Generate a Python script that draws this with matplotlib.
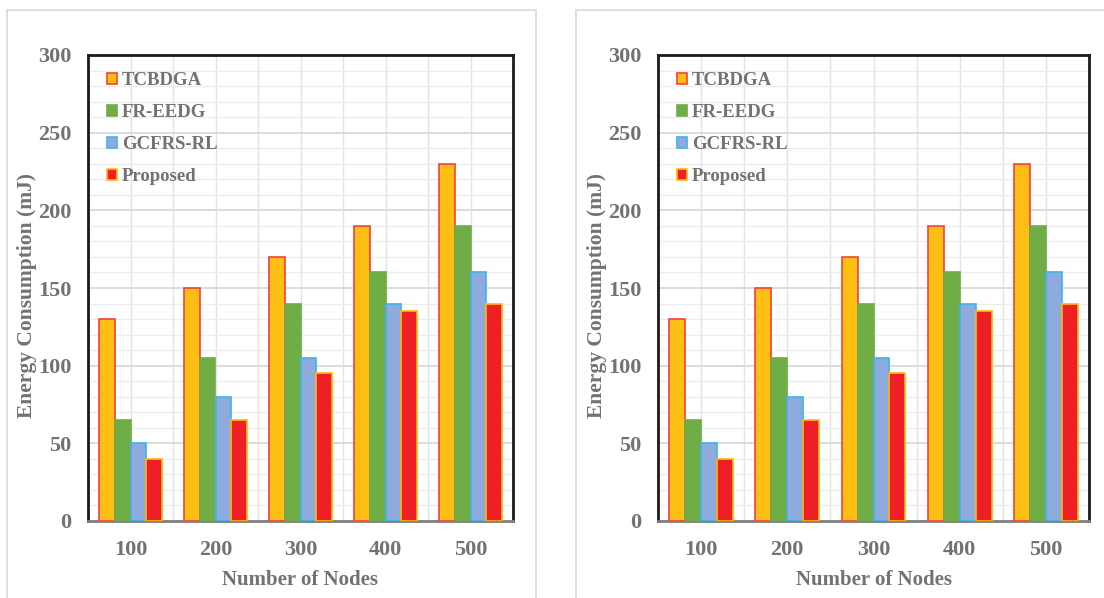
import matplotlib
matplotlib.use("Agg")
import matplotlib.pyplot as plt
from matplotlib.patches import Rectangle, Patch
from matplotlib.ticker import MultipleLocator
import numpy as np

# ---- data ----
nodes = ["100", "200", "300", "400", "500"]
series_names = ["TCBDGA", "FR-EEDG", "GCFRS-RL", "Proposed"]
tcbdga = [130, 150, 170, 190, 230]
fr_eedg = [65, 105, 140, 160, 190]
gcfrs_rl = [50, 80, 105, 140, 160]
proposed = [40, 65, 95, 135, 140]
y_ticks = [0, 50, 100, 150, 200, 250, 300]

series_values = [tcbdga, fr_eedg, gcfrs_rl, proposed]
face_colors = ["#FDBF14", "#70AD47", "#8FAADC", "#EE2026"]
edge_colors = ["#F5413A", "#70AD47", "#3DB4EC", "#FFB813"]

TEXT = "#767171"
FONT = "Liberation Serif"

W, H = 1104, 598
fig = plt.figure(figsize=(W / 100, H / 100), dpi=100)
fig.patch.set_facecolor("white")

# outer chart frames
for x0, x1 in [(7, 536), (576, 1112)]:
    fig.add_artist(Rectangle((x0 / W, -0.05), (x1 - x0) / W, (H - 10) / H + 0.05,
                             transform=fig.transFigure, fill=False,
                             edgecolor="#D9D9D9", linewidth=1.2, zorder=0))


def draw_panel(left, right, ylabel_x):
    top, bottom = 55, 521
    pw, ph = right - left, bottom - top
    ax = fig.add_axes([left / W, (H - bottom) / H, pw / W, ph / H])
    x = np.arange(len(nodes))
    bw = 0.185
    for k, (vals, fc, ec, name) in enumerate(zip(series_values, face_colors, edge_colors, series_names)):
        ax.bar(x + (k - 1.5) * bw, vals, width=bw, color=fc, edgecolor=ec,
               linewidth=1.2, label=name, zorder=3)

    ax.set_xlim(-0.5, len(nodes) - 0.5)
    ax.set_ylim(0, 300)
    ax.set_yticks(y_ticks)
    ax.yaxis.set_minor_locator(MultipleLocator(10))
    ax.set_xticks(x)
    ax.set_xticklabels(nodes)
    ax.set_xticks(np.arange(-0.5, len(nodes), 0.5), minor=True)

    ax.grid(which="major", axis="y", color="#D9D9D9", linewidth=1.3, zorder=0)
    ax.grid(which="minor", axis="y", color="#EDEDED", linewidth=1.0, zorder=0)
    ax.grid(which="both", axis="x", color="#E3E3E3", linewidth=1.0, zorder=0)
    ax.set_axisbelow(True)

    ax.tick_params(which="both", length=0)
    ax.tick_params(axis="y", pad=12)
    ax.tick_params(axis="x", pad=14)
    for lab in ax.get_xticklabels() + ax.get_yticklabels():
        lab.set_fontfamily(FONT)
        lab.set_fontweight("bold")
        lab.set_fontsize(16)
        lab.set_color(TEXT)

    for side in ["left", "top", "right"]:
        ax.spines[side].set_color("#1A1A1A")
        ax.spines[side].set_linewidth(2.0)
    ax.spines["bottom"].set_color("#808080")
    ax.spines["bottom"].set_linewidth(2.0)

    ax.set_ylabel("Energy Consumption (mJ)", fontfamily=FONT, fontweight="bold",
                  fontsize=15.5, color=TEXT)
    ax.yaxis.set_label_coords((ylabel_x - left) / pw, (bottom - 295) / ph)
    ax.set_xlabel("Number of Nodes", fontfamily=FONT, fontweight="bold",
                  fontsize=15, color=TEXT)
    ax.xaxis.set_label_coords(0.5, -(570 - bottom) / ph)

    handles = [Patch(facecolor=fc, edgecolor=ec, linewidth=1.2)
               for fc, ec in zip(face_colors, edge_colors)]
    leg = ax.legend(handles, series_names, loc="upper left",
                    bbox_to_anchor=(19 / pw, (bottom - 72) / ph),
                    frameon=False, borderpad=0, borderaxespad=0,
                    handlelength=0.55, handleheight=0.55, handletextpad=0.25,
                    labelspacing=0.80,
                    prop={"family": FONT, "weight": "bold", "size": 13.5})
    for t in leg.get_texts():
        t.set_color(TEXT)
    return ax


ax1 = draw_panel(88, 513, 37)
ax2 = draw_panel(658, 1089, 607)

fig.savefig("out.png", dpi=100)
